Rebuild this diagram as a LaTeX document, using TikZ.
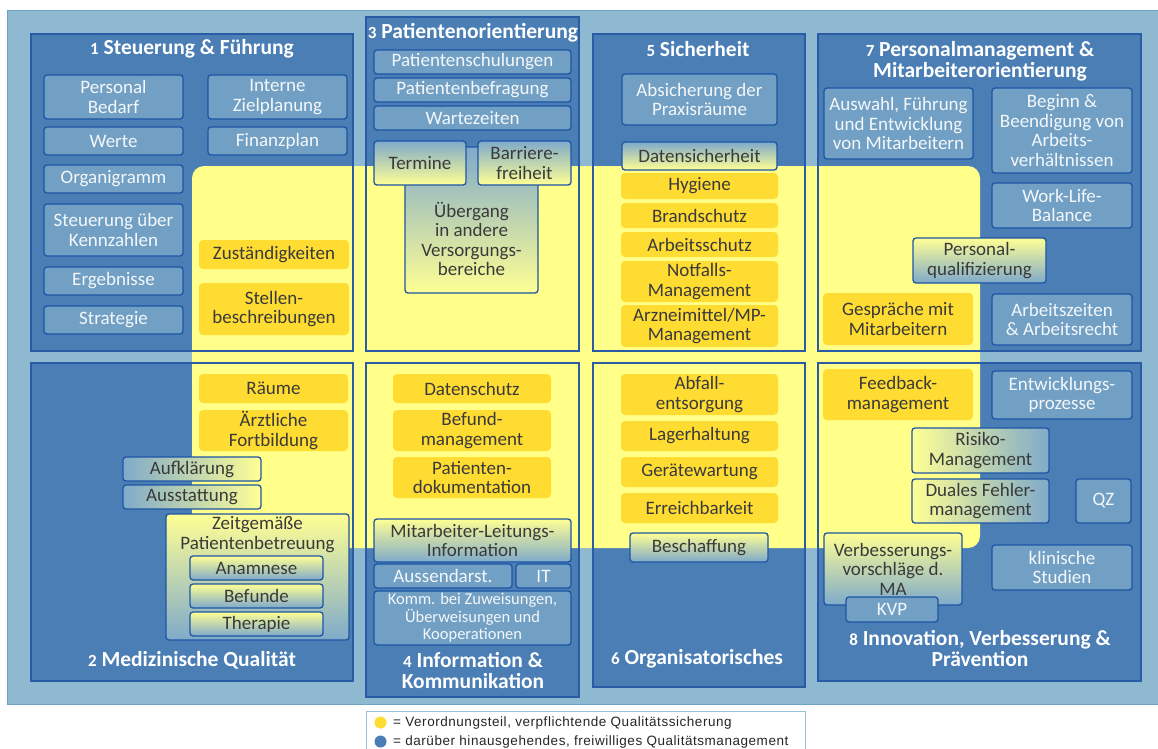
\documentclass[tikz,border=0pt]{standalone}
\usepackage{fontspec}
\setmainfont{Carlito}
\newfontfamily\legfont{Liberation Sans}[LetterSpace=4]
\definecolor{bgblue}{HTML}{8FB9D0}
\definecolor{bgline}{HTML}{6FA2C2}
\definecolor{secblue}{HTML}{4A7EB4}
\definecolor{secline}{HTML}{2A5CA6}
\definecolor{boxblue}{HTML}{71A0C4}
\definecolor{boxline}{HTML}{1E55A5}
\definecolor{boxtext}{HTML}{F4F7FA}
\definecolor{yreg}{HTML}{FFFF8A}
\definecolor{ygold}{HTML}{FFDC32}
\definecolor{txtdark}{HTML}{3A3A3A}
\definecolor{gyel}{HTML}{FFFF94}
\definecolor{gblue}{HTML}{7FAACB}
\definecolor{legline}{HTML}{9DBFD6}
\newcommand{\secno}[1]{{\fontsize{17}{17}\selectfont #1}}
\newcommand{\bxn}[7]{\node[#1, minimum width={#5-#3}, minimum height={#6-#4}] (#2) at ({(#3+#5)/2},{(#4+#6)/2}) {#7};}
\tikzset{
  itemf/.style={font=\fontsize{19}{19.5}\selectfont, align=center, inner sep=0pt},
  bb/.style={itemf, draw=boxline, line width=1.3pt, fill=boxblue, rounded corners=3pt, text=boxtext},
  bbs/.style={bb, font=\fontsize{16.5}{17.5}\selectfont},
  yb/.style={itemf, fill=ygold, rounded corners=4pt, text=txtdark},
  gbase/.style={itemf, draw=boxline, line width=1.3pt, rounded corners=3pt, text=txtdark},
  gyb/.style={gbase, top color=gyel, bottom color=gblue},
  gby/.style={gbase, top color=gblue, bottom color=gyel},
  gbyh/.style={gbase, left color=gblue, right color=gyel},
  gybh/.style={gbase, left color=gyel, right color=gblue},
  sectitle/.style={font=\fontsize{21.5}{21}\selectfont\bfseries, text=white, align=center, inner sep=0pt},
  secfill/.style={fill=secblue},
  secdraw/.style={draw=secline, line width=1.2pt},
  legtext/.style={font=\legfont\fontsize{13.5}{15}\selectfont, text=black!85, anchor=west, inner sep=0pt},
}
\begin{document}
\begin{tikzpicture}[x=1pt,y=-1pt]
\useasboundingbox (0,0) rectangle (1158,748);
\fill[white] (0,0) rectangle (1158,748);
% outer background
\fill[bgblue] (7,10) rectangle (1158,704);
\draw[bgline, line width=0.8pt] (1158,10) -- (7,10) -- (7,704) -- (1158,704);
% section fills
\fill[secfill] (31,34) rectangle (353,351);
\fill[secfill] (366,17) rectangle (579,351);
\fill[secfill] (593,34) rectangle (805,351);
\fill[secfill] (818,34) rectangle (1141,351);
\fill[secfill] (31,363) rectangle (353,681);
\fill[secfill] (366,363) rectangle (579,697);
\fill[secfill] (593,363) rectangle (805,687);
\fill[secfill] (818,363) rectangle (1141,681);
% yellow region
\fill[yreg, rounded corners=12pt] (192,166) rectangle (980,548);
% section borders
\draw[secdraw] (31,34) rectangle (353,351);
\draw[secdraw] (366,17) rectangle (579,351);
\draw[secdraw] (593,34) rectangle (805,351);
\draw[secdraw] (818,34) rectangle (1141,351);
\draw[secdraw] (31,363) rectangle (353,681);
\draw[secdraw] (366,363) rectangle (579,697);
\draw[secdraw] (593,363) rectangle (805,687);
\draw[secdraw] (818,363) rectangle (1141,681);
% section titles
\node[sectitle] (t1) at (192,49) {\secno{1} Steuerung \& Führung};
\node[sectitle] (t3) at (473,33) {\secno{3} Patientenorientierung};
\node[sectitle] (t5) at (698,49) {\secno{5} Sicherheit};
\node[sectitle] (t7) at (980,61.5) {\secno{7} Personalmanagement \&\\Mitarbeiterorientierung};
\node[sectitle] (t2) at (192,660) {\secno{2} Medizinische Qualität};
\node[sectitle] (t4) at (473,670.5) {\secno{4} Information \&\\Kommunikation};
\node[sectitle] (t6) at (697,659) {\secno{6} Organisatorisches};
\node[sectitle] (t8) at (980,649) {\secno{8} Innovation, Verbesserung \&\\Prävention};
% section 1
\bxn{bb}{pers}{44}{75}{183}{119}{Personal\\Bedarf}
\bxn{bb}{ziel}{208}{75}{347}{119}{Interne\\Zielplanung}
\bxn{bb}{werte}{44}{127}{183}{155}{Werte}
\bxn{bb}{fin}{208}{127}{347}{155}{Finanzplan}
\bxn{bb}{orga}{44}{165}{183}{193}{Organigramm}
\bxn{bb}{kenn}{44}{204}{183}{256}{Steuerung über\\Kennzahlen}
\bxn{bb}{erg}{44}{267}{183}{295}{Ergebnisse}
\bxn{bb}{strat}{44}{306}{183}{334}{Strategie}
\bxn{yb}{zust}{199}{240}{349}{269}{Zuständigkeiten}
\bxn{yb}{stell}{199}{283}{349}{335}{Stellen-\\beschreibungen}
% section 3
\bxn{bb}{schul}{374}{50}{571}{74}{Patientenschulungen}
\bxn{bb}{befr}{374}{78}{571}{102}{Patientenbefragung}
\bxn{bb}{wart}{374}{106}{571}{130}{Wartezeiten}
\node[gby, minimum width=133pt, minimum height=146pt,
  label={[name=uebt, itemf, text=txtdark, yshift=-19pt]center:{Übergang\\in andere\\Versorgungs-\\bereiche}}]
  (ueb) at (471.5,220) {};
\bxn{gby}{term}{374}{141}{466}{185}{Termine}
\bxn{gby}{barr}{478}{141}{571}{185}{Barriere-\\freiheit}
% section 5
\bxn{bb}{absi}{622}{74}{777}{125}{Absicherung der\\Praxisräume}
\bxn{gby}{dsich}{622}{142}{777}{170}{Datensicherheit}
\bxn{yb}{hyg}{621}{173}{778}{199}{Hygiene}
\bxn{yb}{brand}{621}{203}{778}{228}{Brandschutz}
\bxn{yb}{arbs}{621}{232}{778}{257}{Arbeitsschutz}
\bxn{yb}{notf}{621}{261}{778}{302}{Notfalls-\\Management}
\bxn{yb}{arzn}{621}{305}{778}{347}{Arzneimittel/MP-\\Management}
% section 7
\bxn{bb}{ausw}{824}{88}{973}{159}{Auswahl, Führung\\und Entwicklung\\von Mitarbeitern}
\bxn{bb}{begi}{992}{88}{1132}{173}{Beginn \&\\Beendigung von\\Arbeits-\\verhältnissen}
\bxn{bb}{wlb}{992}{183}{1132}{228}{Work-Life-\\Balance}
\bxn{gyb}{pqual}{913}{238}{1046}{283}{Personal-\\qualifizierung}
\bxn{yb}{gespr}{823}{293}{973}{345}{Gespräche mit\\Mitarbeitern}
\bxn{bb}{azeit}{992}{294}{1132}{345}{Arbeitszeiten\\\& Arbeitsrecht}
% section 2
\bxn{yb}{raeu}{199}{374}{348}{403}{Räume}
\bxn{yb}{fort}{199}{410}{348}{451}{Ärztliche\\Fortbildung}
\bxn{gbyh}{aufk}{123}{457}{261}{481}{Aufklärung}
\bxn{gbyh}{ausst}{123}{485}{261}{509}{Ausstattung}
\node[gyb, minimum width=183pt, minimum height=126pt,
  label={[name=zeitt, itemf, text=txtdark, anchor=north, yshift=-3pt]north:{Zeitgemäße\\Patientenbetreuung}}]
  (zeit) at (257.5,577) {};
\bxn{gyb}{anam}{190}{556}{323}{580}{Anamnese}
\bxn{gyb}{befu}{190}{584}{323}{608}{Befunde}
\bxn{gyb}{ther}{190}{612}{323}{636}{Therapie}
% section 4
\bxn{yb}{dschutz}{393}{374}{551}{403}{Datenschutz}
\bxn{yb}{befm}{393}{410}{551}{451}{Befund-\\management}
\bxn{yb}{pdok}{393}{457}{551}{498}{Patienten-\\dokumentation}
\bxn{gyb}{mli}{374}{519}{571}{562}{Mitarbeiter-Leitungs-\\Information}
\bxn{bb}{auss}{374}{564}{512}{588}{Aussendarst.}
\bxn{bb}{it}{516}{564}{571}{588}{IT}
\bxn{bbs}{komm}{374}{591}{571}{645}{Komm. bei Zuweisungen,\\Überweisungen und\\Kooperationen}
% section 6
\bxn{yb}{abf}{621}{374}{778}{415}{Abfall-\\entsorgung}
\bxn{yb}{lager}{621}{421}{778}{451}{Lagerhaltung}
\bxn{yb}{geraet}{621}{457}{778}{487}{Gerätewartung}
\bxn{yb}{erreich}{621}{493}{778}{523}{Erreichbarkeit}
\bxn{gyb}{besch}{630}{533}{768}{562}{Beschaffung}
% section 8
\bxn{yb}{feed}{823}{369}{973}{420}{Feedback-\\management}
\bxn{bb}{entw}{992}{371}{1132}{419}{Entwicklungs-\\prozesse}
\bxn{gybh}{risk}{912}{428}{1049}{473}{Risiko-\\Management}
\bxn{gybh}{dual}{912}{479}{1049}{523}{Duales Fehler-\\management}
\bxn{bb}{qz}{1076}{479}{1131}{523}{QZ}
\bxn{gyb}{verb}{824}{533}{962}{605}{Verbesserungs-\\vorschläge d.\\MA}
\bxn{bb}{kvp}{846}{597}{938}{622}{KVP}
\bxn{bb}{klin}{992}{545}{1132}{590}{klinische\\Studien}
% legend
\fill[white] (366,711) rectangle (805,748);
\draw[legline, line width=0.8pt] (366,749) -- (366,711) -- (805,711) -- (805,749);
\node[circle, fill=ygold, minimum size=12pt, inner sep=0pt] (ly) at (380.5,722.5) {};
\node[legtext] (lyt) at (393,722.5) {= Verordnungsteil, verpflichtende Qualitätssicherung};
\node[circle, fill=secblue, minimum size=12pt, inner sep=0pt] (lb) at (380.5,741.5) {};
\node[legtext] (lbt) at (393,741.5) {= darüber hinausgehendes, freiwilliges Qualitätsmanagement};
\end{tikzpicture}
\end{document}
